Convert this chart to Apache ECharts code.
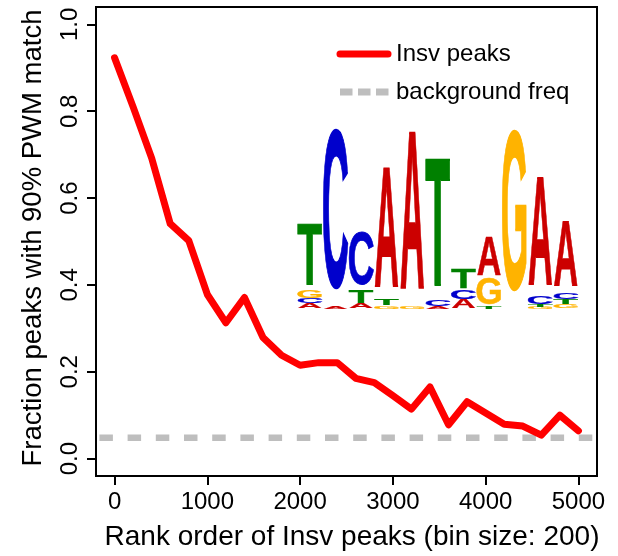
<!DOCTYPE html>
<html>
<head>
<meta charset="utf-8">
<script src="https://cdn.jsdelivr.net/npm/echarts@6/dist/echarts.min.js"></script>
<style>
  html, body { margin: 0; padding: 0; background: #fff; }
  #main { width: 618px; height: 556px; }
</style>
</head>
<body>
<div id="main"></div>
<script>
// rank bins (bin size 200) and fraction of peaks with a 90% PWM match
const rankBins = [0, 200, 400, 600, 800, 1000, 1200, 1400, 1600, 1800, 2000, 2200, 2400,
  2600, 2800, 3000, 3200, 3400, 3600, 3800, 4000, 4200, 4400, 4600, 4800, 5000];
const insvFraction = [0.923, 0.810, 0.692, 0.541, 0.502, 0.378, 0.313, 0.371, 0.279, 0.238,
  0.215, 0.221, 0.221, 0.185, 0.175, 0.145, 0.114, 0.165, 0.078, 0.131,
  0.105, 0.079, 0.075, 0.054, 0.100, 0.064];
const backgroundFreq = 0.048;

const xTicks = [0, 1000, 2000, 3000, 4000, 5000];
const yTicks = [0, 0.2, 0.4, 0.6, 0.8, 1.0];

// motif logo, letters stacked bottom -> top, heights in px
const logoColumns = [
  [['A', 5], ['C', 5], ['G', 8], ['T', 62]],
  [['A', 2], ['C', 165]],
  [['A', 5], ['T', 13], ['C', 55]],
  [['G', 3], ['T', 6], ['A', 122]],
  [['G', 3], ['A', 161]],
  [['A', 2], ['C', 7], ['T', 130]],
  [['A', 9], ['C', 10], ['T', 20]],
  [['T', 2], ['G', 27], ['A', 40]],
  [['G', 166]],
  [['G', 2], ['T', 2], ['C', 8], ['A', 110]],
  [['G', 4], ['T', 5], ['C', 7], ['A', 66]]
];

const letterColor = { A: '#cc0000', C: '#0000cc', G: '#ffb300', T: '#008000' };
// ink size of bold glyphs, in em
const inkW = { A: 0.71, C: 0.64, G: 0.68, T: 0.59 };
const inkH = { A: 0.716, C: 0.74, G: 0.74, T: 0.716 };

const chart = echarts.init(document.getElementById('main'), null, { renderer: 'canvas' });

function logoGraphics() {
  const out = [];
  const left = 297, colW = 25.6, base = 309, F = 100;
  logoColumns.forEach(function (col, i) {
    let y = base;
    col.forEach(function (item) {
      const L = item[0], h = item[1];
      const cx = left + i * colW + colW / 2;
      const cy = y - h / 2;
      out.push({
        type: 'text',
        x: cx,
        y: cy,
        scaleX: (colW - 1.5) / (inkW[L] * F),
        scaleY: h / (inkH[L] * F),
        silent: true,
        style: {
          text: L,
          font: 'bold ' + F + 'px "Liberation Sans", Arial, sans-serif',
          fill: letterColor[L],
          stroke: letterColor[L],
          lineWidth: 1.2,
          strokeNoScale: true,
          align: 'center',
          verticalAlign: 'middle'
        }
      });
      y -= h;
    });
  });
  return out;
}

const font = '"Liberation Sans", Arial, Helvetica, sans-serif';

const option = {
  animation: false,
  backgroundColor: '#fff',
  grid: {
    left: 96, top: 7, width: 501, height: 469,
    show: true, borderColor: '#000', borderWidth: 2,
    outerBoundsMode: 'none'
  },
  xAxis: {
    type: 'value',
    min: -200, max: 5200,
    axisLine: { show: false, onZero: false },
    splitLine: { show: false },
    axisTick: { show: true, inside: false, customValues: xTicks, length: 9, lineStyle: { color: '#000', width: 2 } },
    axisLabel: {
      customValues: xTicks, margin: 14, fontSize: 24, color: '#000', fontFamily: font,
      formatter: function (v) { return String(v); }
    }
  },
  yAxis: {
    type: 'value',
    min: -0.04, max: 1.04,
    axisLine: { show: false, onZero: false },
    splitLine: { show: false },
    axisTick: { show: true, inside: false, customValues: yTicks, length: 9, lineStyle: { color: '#000', width: 2 } },
    axisLabel: {
      customValues: yTicks, rotate: 90, margin: 14, fontSize: 24, color: '#000', fontFamily: font,
      formatter: function (v) { return v.toFixed(1); }
    }
  },
  series: [
    {
      name: 'background freq',
      type: 'line',
      symbol: 'none',
      z: 2,
      data: [[-200, backgroundFreq], [5200, backgroundFreq]],
      lineStyle: { color: '#bebebe', width: 6.5, type: [13.5, 14.7], dashOffset: 24.8, cap: 'butt' }
    },
    {
      name: 'Insv peaks',
      type: 'line',
      symbol: 'none',
      z: 3,
      data: rankBins.map(function (r, i) { return [r, insvFraction[i]]; }),
      lineStyle: { color: '#ff0000', width: 7, cap: 'round', join: 'round' }
    }
  ],
  graphic: [
    {
      type: 'text', x: 352, y: 537, silent: true,
      style: { text: 'Rank order of Insv peaks (bin size: 200)', font: '28px ' + font, fill: '#000', align: 'center', verticalAlign: 'middle' }
    },
    {
      type: 'text', x: 33, y: 238, rotation: Math.PI / 2, silent: true,
      style: { text: 'Fraction peaks with 90% PWM match', font: '27.5px ' + font, fill: '#000', align: 'center', verticalAlign: 'middle' }
    },
    // legend
    {
      type: 'line', silent: true,
      shape: { x1: 340, y1: 54, x2: 388, y2: 54 },
      style: { stroke: '#ff0000', lineWidth: 7, lineCap: 'round' }
    },
    {
      type: 'text', x: 396, y: 54, silent: true,
      style: { text: 'Insv peaks', font: '24px ' + font, fill: '#000', align: 'left', verticalAlign: 'middle' }
    },
    {
      type: 'line', silent: true,
      shape: { x1: 340, y1: 92, x2: 389, y2: 92 },
      style: { stroke: '#bebebe', lineWidth: 7, lineDash: [12.5, 5.5], lineCap: 'butt' }
    },
    {
      type: 'text', x: 396, y: 92, silent: true,
      style: { text: 'background freq', font: '24px ' + font, fill: '#000', align: 'left', verticalAlign: 'middle' }
    }
  ].concat(logoGraphics())
};

chart.setOption(option);
</script>
</body>
</html>
